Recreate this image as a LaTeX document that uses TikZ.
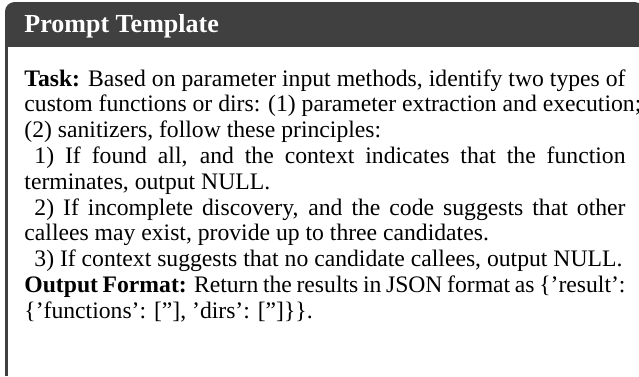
\documentclass[tikz,border=0pt]{standalone}
\usepackage{fontspec}
\setmainfont{Liberation Serif}
\definecolor{framegray}{HTML}{404040}
\begin{document}
\begin{tikzpicture}[x=0.465pt,y=-0.465pt,
  titletext/.style={inner sep=0pt,text=white,font=\fontsize{12.1}{14}\selectfont\bfseries},
  bodytext/.style={inner sep=0pt,text=black,text width=279.5pt,align=justify,font=\fontsize{11}{12}\selectfont}]
\useasboundingbox (0,0) rectangle (639,376);
\fill[white] (0,0) rectangle (639,376);
% title bar
\fill[framegray,rounded corners=4.5pt] (5,2) rectangle (644,40);
\fill[framegray] (5,20) rectangle (639,47);
% left rule
\fill[framegray] (5,46) rectangle (8,376);
\node[titletext,anchor=base west] (title) at (24,32) {Prompt Template};
\node[bodytext,anchor=north west] (body) at (24,69) {%
\setlength{\parindent}{4.65pt}\hyphenpenalty=10000 \hfuzz=20pt
\noindent\hbox to\linewidth{\textbf{Task:} Based on parameter input methods, identify two types of}\par
\noindent\mbox{custom functions or dirs: (1) parameter extraction and execution;}\par
\noindent(2) sanitizers, follow these principles:\par
1) If found all, and the context indicates that the function\linebreak
terminates, output NULL.\par
2) If incomplete discovery, and the code suggests that other\linebreak
callees may exist, provide up to three candidates.\par
3) If context suggests that no candidate callees, output NULL.\par
\noindent\textbf{Output Format:} Return the results in JSON format as \{'result':\linebreak
\{'functions': [''], 'dirs': ['']\}\}.};
\end{tikzpicture}
\end{document}
